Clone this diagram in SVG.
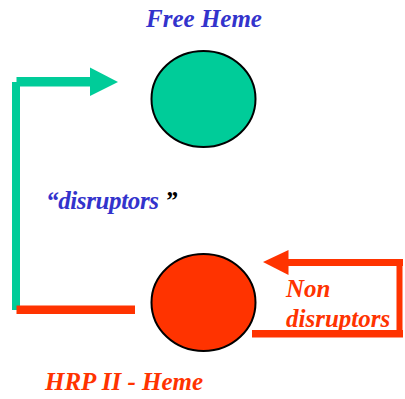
<svg xmlns="http://www.w3.org/2000/svg" width="405" height="399" viewBox="0 0 405 399">
<style>
.t{font-family:"Liberation Serif","Times New Roman",serif;font-weight:bold;font-style:italic;font-size:25px}
.blue{fill:#3333CC}
.red{fill:#FF3300}
.node{stroke:#000;stroke-width:2}
</style>
<rect width="405" height="399" fill="#fff"/>
<g id="connectors">
  <g id="disruptors-arrow" fill="#00CC99">
    <rect x="12" y="82" width="8" height="228"/>
    <rect x="16.5" y="77" width="74" height="9.5"/>
    <polygon points="90,67.5 118,82 90,96"/>
  </g>
  <g id="return-line" fill="#FF3300">
    <rect x="16.5" y="305.5" width="118.5" height="8.5"/>
  </g>
  <g id="non-disruptors-arrow" fill="#FF3300">
    <rect x="287" y="259" width="116" height="7"/>
    <rect x="396.5" y="259" width="6" height="78"/>
    <rect x="252" y="330" width="151" height="7.5"/>
    <polygon points="263,262 288.5,250 288.5,275"/>
  </g>
</g>
<g id="free-heme">
  <ellipse class="node" cx="203.5" cy="99" rx="52" ry="48" fill="#00CC99"/>
  <text class="t blue" x="204" y="27" text-anchor="middle">Free Heme</text>
</g>
<g id="hrp-heme">
  <ellipse class="node" cx="203.5" cy="302.5" rx="52" ry="48.5" fill="#FF3300"/>
  <text class="t red" x="45" y="390">HRP II - Heme</text>
</g>
<g id="labels">
  <text class="t" x="46" y="208.5"><tspan class="blue" textLength="113">“disruptors</tspan><tspan x="165" fill="#000">”</tspan></text>
  <text class="t red" x="286" y="296.5">Non</text>
  <text class="t red" x="286" y="327">disruptors</text>
</g>
</svg>
